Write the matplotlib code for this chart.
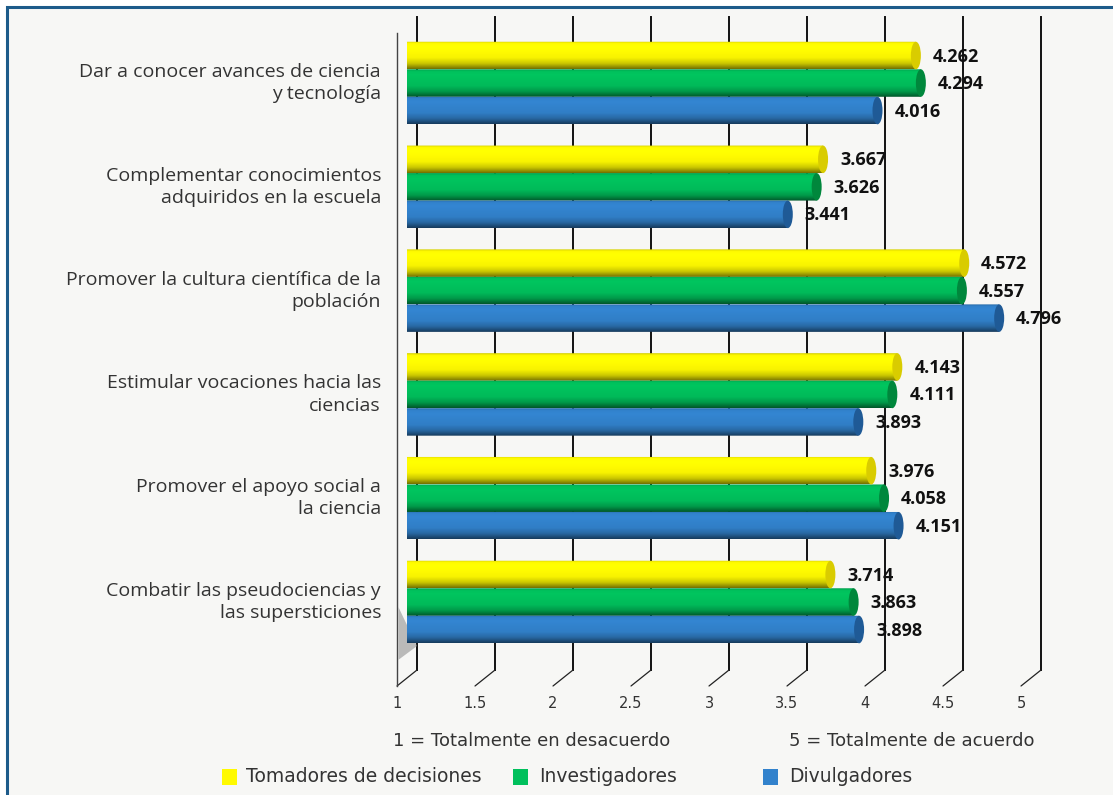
import matplotlib
matplotlib.use("Agg")
import matplotlib.pyplot as plt
import numpy as np
from matplotlib.patches import Ellipse, Rectangle, PathPatch, ConnectionPatch, Polygon
from matplotlib.path import Path
from matplotlib.transforms import offset_copy
from matplotlib.colors import to_rgb

plt.rcParams['font.family'] = ['Open Sans', 'DejaVu Sans']

# Data
categories = [
    "Dar a conocer avances de ciencia\ny tecnología",
    "Complementar conocimientos\nadquiridos en la escuela",
    "Promover la cultura científica de la\npoblación",
    "Estimular vocaciones hacia las\nciencias",
    "Promover el apoyo social a\nla ciencia",
    "Combatir las pseudociencias y\nlas supersticiones",
]
series_names = ["Tomadores de decisiones", "Investigadores", "Divulgadores"]
tomadores = [4.262, 3.667, 4.572, 4.143, 3.976, 3.714]
investigadores = [4.294, 3.626, 4.557, 4.111, 4.058, 3.863]
divulgadores = [4.016, 3.441, 4.796, 3.893, 4.151, 3.898]
x_ticks = [1, 1.5, 2, 2.5, 3, 3.5, 4, 4.5, 5]
tick_labels = ["1", "1.5", "2", "2.5", "3", "3.5", "4", "4.5", "5"]

series = [tomadores, investigadores, divulgadores]
colors = ["#fffa00", "#00c05c", "#3282cc"]
cap_colors = ["#d9cc00", "#00873c", "#1f5a96"]

W, H = 1113, 795
fig = plt.figure(figsize=(W / 100, H / 100), dpi=100)
fig.patch.set_facecolor("white")
fig.patches.append(Rectangle((7 / W, -0.02), 1.05, 1 - 7 / H + 0.02, transform=fig.transFigure,
                             facecolor="#f7f7f5", edgecolor="#1d5b8a", linewidth=2.2, zorder=-10))

# axes = middle depth plane of the pseudo-3D box
ax = fig.add_axes([407 / W, (H - 678) / H, 624 / W, 653 / H])
ax.patch.set_visible(False)
ax.axis("off")
x_min, x_max = 1, 5
y_top, y_bot = -0.559, 5.732
px_x = 624 / (x_max - x_min)  # pixels per unit along x

back = offset_copy(ax.transData, fig=fig, x=10, y=8, units="dots")
front = offset_copy(ax.transData, fig=fig, x=-10, y=-8, units="dots")

# back wall gridlines + floor diagonals
for v, lab in zip(x_ticks, tick_labels):
    ax.plot([v, v], [y_top, y_bot], transform=back, color="#111111", lw=1.4, clip_on=False, zorder=1)
    con = ConnectionPatch((v, y_bot), (v, y_bot), coordsA=back, coordsB=front,
                          color="#222222", lw=0.9, zorder=1)
    ax.add_artist(con)
    ax.text(v, y_bot, lab, transform=offset_copy(ax.transData, fig=fig, x=-10, y=-25, units="dots"),
            ha="center", va="center", fontsize=10.5, color="#333333", family="DejaVu Sans")

# left wall
ax.plot([x_min, x_min], [y_top, y_bot], transform=front, color="#444444", lw=1, clip_on=False, zorder=1)

# cylinder bars
bar_h = 0.265
a = 5 / px_x  # half width of end ellipse in data units
t = np.linspace(0, 1, 60)
shade = np.interp(t, [0, 0.07, 0.2, 0.6, 0.8, 0.93, 1], [0.82, 1.0, 1.03, 0.97, 0.8, 0.58, 0.45])

# shadow of the lowest bars on the left wall
last = len(categories) - 1
ax.add_patch(Polygon([(x_min - 8.5 / px_x, last + 0.05), (x_min - 8.5 / px_x, last + 2.1 * bar_h),
                      (x_min + 10 / px_x, last + 1.6 * bar_h)],
                     closed=True, facecolor="#a0a0a0", edgecolor="none", alpha=0.7,
                     clip_on=False, zorder=2))

for j, vals in enumerate(series):
    base = np.array(to_rgb(colors[j]))
    grad = np.clip(base[None, :] * shade[:, None], 0, 1)[:, None, :]
    for i, v in enumerate(vals):
        yc = i + (j - 1) * bar_h
        hh = bar_h / 2
        th = np.linspace(np.pi / 2, 3 * np.pi / 2, 30)
        verts = [(x_min + a * np.cos(k), yc - hh * np.sin(k)) for k in th]
        verts += [(v, yc + hh), (v, yc - hh), verts[0]]
        codes = [Path.MOVETO] + [Path.LINETO] * (len(verts) - 2) + [Path.CLOSEPOLY]
        clip = PathPatch(Path(verts, codes), transform=ax.transData, fc="none", ec="none")
        ax.add_patch(clip)
        im = ax.imshow(grad, extent=(x_min - a, v, yc + hh, yc - hh), aspect="auto",
                       interpolation="bilinear", zorder=3)
        im.set_clip_path(clip)
        ax.add_patch(Ellipse((v, yc), 2 * a, bar_h, facecolor=cap_colors[j], edgecolor="none", zorder=4))
        ax.text(v, yc, f"{v:.3f}", transform=offset_copy(ax.transData, fig=fig, x=17, y=-1, units="dots"),
                ha="left", va="center", fontsize=13, fontweight="bold", color="#111111", zorder=5)

# category labels
for i, cat in enumerate(categories):
    ax.text(x_min, i, cat, transform=offset_copy(ax.transData, fig=fig, x=-26, units="dots"),
            ha="right", va="center", multialignment="right", fontsize=14, color="#333333",
            linespacing=1.3)

ax.set_xlim(x_min, x_max)
ax.set_ylim(y_bot, y_top)

# scale captions
fig.text(393 / W, 1 - 741 / H, "1 = Totalmente en desacuerdo", fontsize=13, va="center",
         color="#333333", family="DejaVu Sans")
fig.text(789 / W, 1 - 741 / H, "5 = Totalmente de acuerdo", fontsize=13, va="center",
         color="#333333", family="DejaVu Sans")

# legend
for x_sq, x_txt, col, name in zip([222, 513, 763], [246, 539, 789], colors, series_names):
    fig.patches.append(Rectangle((x_sq / W, 1 - 785 / H), 15 / W, 16 / H, transform=fig.transFigure,
                                 facecolor=col, edgecolor="none", zorder=2))
    fig.text(x_txt / W, 1 - 777 / H, name, fontsize=13.5, va="center", color="#333333",
             family="DejaVu Sans")

fig.savefig("out.png", dpi=100)
